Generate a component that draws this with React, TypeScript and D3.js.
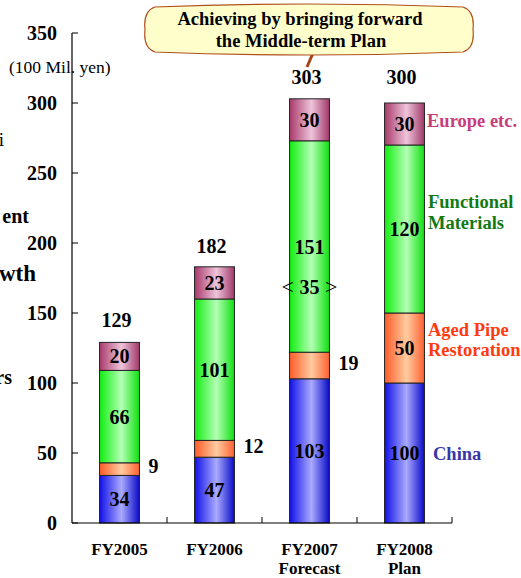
import React from "react";
import * as d3 from "d3";

const categories = ["FY2005", "FY2006", "FY2007", "FY2008"];
const catLine2 = ["", "", "Forecast", "Plan"];
const china = [34, 47, 103, 100];
const agedPipe = [9, 12, 19, 50];
const functional = [66, 101, 151, 120];
const europe = [20, 23, 30, 30];
const totals = [129, 182, 303, 300];
const yTicks = [0, 50, 100, 150, 200, 250, 300, 350];
const seriesNames = ["China", "Aged Pipe Restoration", "Functional Materials", "Europe etc."];
const chinaInnerBlocks = [35];

const FONT = "'Times New Roman', 'Liberation Serif', serif";

const gradients = [
  { id: "gChina", edge: "#1010e8", mid: "#aaaaff", edge2: "#0a0ac8" },
  { id: "gAged", edge: "#ff5a28", mid: "#ffcca0", edge2: "#ff6030" },
  { id: "gFunc", edge: "#10ee10", mid: "#b4ffb4", edge2: "#10e010" },
  { id: "gEur", edge: "#a83a6c", mid: "#efc4da", edge2: "#a03868" },
];

export default function App() {
  const W = 521, H = 578;
  const x = d3.scaleBand<string>().domain(categories).range([72, 452]).paddingInner(0.58).paddingOuter(0.29);
  const xb = d3.scaleBand<string>().domain(categories).range([72, 452]).padding(0);
  const y = d3.scaleLinear().domain([0, 350]).range([523, 33]);

  const stackData = categories.map((c, i) => ({ cat: c, China: china[i], Aged: agedPipe[i], Func: functional[i], Eur: europe[i] }));
  const stack = d3.stack<any>().keys(["China", "Aged", "Func", "Eur"]);
  const series = stack(stackData);
  const fills = ["url(#gChina)", "url(#gAged)", "url(#gFunc)", "url(#gEur)"];

  const bold = { fontFamily: FONT, fontWeight: 700 } as const;

  const bx0 = 145, bx1 = 473, by0 = 5, by1 = 54;
  const calloutPath = `M ${bx0 + 10} ${by0 + 2} Q ${(bx0 + bx1) / 2} ${by0 - 4} ${bx1 - 10} ${by0 + 2}
    Q ${bx1 + 2} ${by0 + 6} ${bx1} ${(by0 + by1) / 2} Q ${bx1 + 2} ${by1 - 6} ${bx1 - 10} ${by1 - 2}
    Q ${(bx0 + bx1) / 2} ${by1 + 4} ${bx0 + 10} ${by1 - 2} Q ${bx0 - 2} ${by1 - 6} ${bx0} ${(by0 + by1) / 2}
    Q ${bx0 - 2} ${by0 + 6} ${bx0 + 10} ${by0 + 2} Z`;

  return (
    <svg width={W} height={H} style={{ position: "absolute", left: 0, top: 0, background: "#fff" }}>
      <defs>
        {gradients.map((g) => (
          <linearGradient key={g.id} id={g.id} x1="0" x2="1" y1="0" y2="0">
            <stop offset="0" stopColor={g.edge} />
            <stop offset="0.55" stopColor={g.mid} />
            <stop offset="1" stopColor={g.edge2} />
          </linearGradient>
        ))}
      </defs>

      <text x={4} y={146} textAnchor="end" style={{ fontFamily: FONT, fontSize: 19 }}>i</text>
      <text x={29} y={223} textAnchor="end" style={{ ...bold, fontSize: 20 }}>ent</text>
      <text x={36} y={281} textAnchor="end" style={{ ...bold, fontSize: 23 }}>wth</text>
      <text x={12} y={384} textAnchor="end" style={{ ...bold, fontSize: 20 }}>rs</text>

      <text x={9} y={73} style={{ fontFamily: FONT, fontSize: 17.5 }}>(100 Mil. yen)</text>

      {series.map((s, si) =>
        s.map((d, i) => (
          <rect
            key={`${si}-${i}`}
            x={x(categories[i])}
            y={y(d[1])}
            width={x.bandwidth()}
            height={y(d[0]) - y(d[1])}
            fill={fills[si]}
            stroke="#222"
            strokeWidth={1}
            data-series={seriesNames[si]}
          />
        ))
      )}

      <line x1={72} x2={72} y1={y(350)} y2={y(0)} stroke="#000" strokeWidth={1.2} />
      {yTicks.map((t) => (
        <g key={t}>
          <line x1={72} x2={78} y1={y(t)} y2={y(t)} stroke="#000" />
          <text x={57} y={y(t)} dy="0.35em" textAnchor="end" style={{ ...bold, fontSize: 20 }}>{t}</text>
        </g>
      ))}
      <line x1={72} x2={452} y1={y(0)} y2={y(0)} stroke="#000" strokeWidth={1.2} />
      {categories.map((c) => (
        <line key={c} x1={(xb(c) as number) + xb.bandwidth()} x2={(xb(c) as number) + xb.bandwidth()} y1={y(0)} y2={y(0) - 6} stroke="#000" />
      ))}

      {categories.map((c, i) => (
        <g key={c}>
          <text x={(x(c) as number) + x.bandwidth() / 2} y={555} textAnchor="middle" style={{ ...bold, fontSize: 17 }}>{c}</text>
          {catLine2[i] && (
            <text x={(x(c) as number) + x.bandwidth() / 2} y={574} textAnchor="middle" style={{ ...bold, fontSize: 17 }}>{catLine2[i]}</text>
          )}
        </g>
      ))}

      {series.map((s, si) =>
        s.map((d, i) => {
          const v = d[1] - d[0];
          const cx = (x(categories[i]) as number) + x.bandwidth() / 2;
          const my = y((d[0] + d[1]) / 2);
          if (si === 1 && i < 3) {
            return (
              <text key={`l${si}-${i}`} x={(x(categories[i]) as number) + x.bandwidth() + 9} y={my - 3} dy="0.35em" style={{ ...bold, fontSize: 20 }}>{v}</text>
            );
          }
          return (
            <text key={`l${si}-${i}`} x={cx} y={my} dy="0.35em" textAnchor="middle" style={{ ...bold, fontSize: 20 }}>{v}</text>
          );
        })
      )}

      <text x={(x("FY2007") as number) + x.bandwidth() / 2} y={y(169)} dy="0.35em" textAnchor="middle" style={{ fontFamily: FONT, fontSize: 22 }}>
        {"< "}<tspan style={{ fontWeight: 700, fontSize: 20 }}>{chinaInnerBlocks[0]}</tspan>{" >"}
      </text>

      {categories.map((c, i) => (
        <text key={`t${c}`} x={(x(c) as number) + x.bandwidth() / 2 - 3} y={Math.min(y(totals[i]) - 15, i === 3 ? 84 : 999)} textAnchor="middle" style={{ ...bold, fontSize: 20 }}>{totals[i]}</text>
      ))}

      <text x={427} y={121} dy="0.35em" fill="#c83c7c" style={{ ...bold, fontSize: 18.5 }}>Europe etc.</text>
      <text x={428} y={202} dy="0.35em" fill="#137a13" style={{ ...bold, fontSize: 18.5 }}>Functional</text>
      <text x={428} y={223} dy="0.35em" fill="#137a13" style={{ ...bold, fontSize: 18.5 }}>Materials</text>
      <text x={428} y={330} dy="0.35em" fill="#ff3a10" style={{ ...bold, fontSize: 18.5 }}>Aged Pipe</text>
      <text x={428} y={350} dy="0.35em" fill="#ff3a10" style={{ ...bold, fontSize: 18.5 }}>Restoration</text>
      <text x={433} y={454} dy="0.35em" fill="#3636a6" style={{ ...bold, fontSize: 18.5 }}>China</text>

      <line x1={313} y1={53} x2={307} y2={67} stroke="#a84418" strokeWidth={3} />
      <path d={calloutPath} fill="#ffffcc" stroke="#b0501e" strokeWidth={1.2} />
      <text x={300} y={19} dy="0.35em" textAnchor="middle" style={{ ...bold, fontSize: 18.5 }}>Achieving by bringing forward</text>
      <text x={301} y={41} dy="0.35em" textAnchor="middle" style={{ ...bold, fontSize: 18.5 }}>the Middle-term Plan</text>
    </svg>
  );
}
